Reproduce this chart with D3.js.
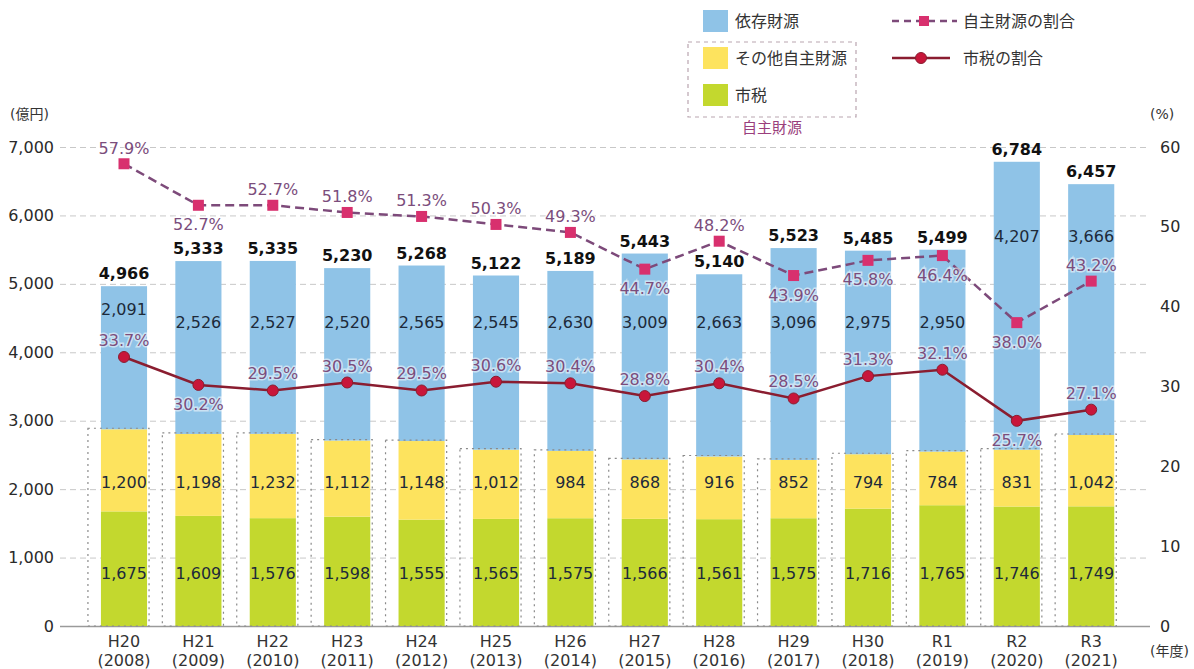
<!DOCTYPE html>
<html>
<head>
<meta charset="utf-8">
<script src="https://cdn.jsdelivr.net/npm/d3@7"></script>
<style>
  body { margin: 0; background: #fff; }
  svg { display: block; font-family: "DejaVu Sans", "Noto Sans CJK JP", sans-serif; }
</style>
</head>
<body>
<div id="chart"></div>
<script>
const width = 1194, height = 669;

// data (億円 / %)
const years     = ["H20","H21","H22","H23","H24","H25","H26","H27","H28","H29","H30","R1","R2","R3"];
const westYears = ["2008","2009","2010","2011","2012","2013","2014","2015","2016","2017","2018","2019","2020","2021"];
const cityTax   = [1675,1609,1576,1598,1555,1565,1575,1566,1561,1575,1716,1765,1746,1749];
const otherOwn  = [1200,1198,1232,1112,1148,1012,984,868,916,852,794,784,831,1042];
const dependent = [2091,2526,2527,2520,2565,2545,2630,3009,2663,3096,2975,2950,4207,3666];
const totals    = [4966,5333,5335,5230,5268,5122,5189,5443,5140,5523,5485,5499,6784,6457];
const ownRatio  = [57.9,52.7,52.7,51.8,51.3,50.3,49.3,44.7,48.2,43.9,45.8,46.4,38.0,43.2];
const taxRatio  = [33.7,30.2,29.5,30.5,29.5,30.6,30.4,28.8,30.4,28.5,31.3,32.1,25.7,27.1];
const leftTicks  = [0,1000,2000,3000,4000,5000,6000,7000];
const rightTicks = [0,10,20,30,40,50,60];

const colBlue = "#8fc3e7", colYellow = "#fde35e", colGreen = "#c3d82e";
const colOwnLine = "#7d4a7a", colOwnMark = "#d8306e";
const colTaxLine = "#8a1d30", colTaxMark = "#c8163a";
const colPct = "#7b4d7c", colVal = "#1d2a3a";

const data = years.map((y, i) => ({
  year: y, west: westYears[i], tax: cityTax[i], other: otherOwn[i], dep: dependent[i],
  total: totals[i], own: ownRatio[i], taxR: taxRatio[i]
}));

const svg = d3.select("#chart").append("svg")
  .attr("width", width).attr("height", height);

const gridL = 60, gridR = 1150;
const x = d3.scaleBand().domain(years).range([86.8, 1128.4]).paddingInner(0.38).paddingOuter(0.19);
const y = d3.scaleLinear().domain([0, 7000]).range([626, 147]);
const y2 = d3.scaleLinear().domain([0, 60]).range([626, 147]);
const bw = x.bandwidth();
const cx = d => x(d.year) + bw / 2;

// axes + grid
const leftAxis = svg.append("g")
  .attr("transform", `translate(${gridL},0)`)
  .call(d3.axisLeft(y).tickValues(leftTicks).tickFormat(d3.format(","))
    .tickSize(-(gridR - gridL)).tickPadding(6));
leftAxis.select(".domain").remove();
leftAxis.selectAll(".tick line")
  .attr("stroke", d => d === 0 ? "#9a9a9a" : "#c8c8c8")
  .attr("stroke-width", d => d === 0 ? 1.5 : 1)
  .attr("stroke-dasharray", d => d === 0 ? null : "6,4");
leftAxis.selectAll(".tick text").attr("font-size", 16).attr("fill", "#2a2a2a")
  .attr("font-family", "DejaVu Sans");

const rightAxis = svg.append("g")
  .attr("transform", `translate(${gridR},0)`)
  .call(d3.axisRight(y2).tickValues(rightTicks).tickSize(0).tickPadding(10));
rightAxis.select(".domain").remove();
rightAxis.selectAll(".tick text").attr("font-size", 16).attr("fill", "#2a2a2a")
  .attr("font-family", "DejaVu Sans");

svg.append("text").attr("x", 10).attr("y", 119).attr("font-size", 14).attr("fill", "#333").text("(億円)");
svg.append("text").attr("x", 1150).attr("y", 119).attr("font-size", 14).attr("fill", "#333").text("(%)");
svg.append("text").attr("x", 1150).attr("y", 656).attr("font-size", 14).attr("fill", "#333").text("(年度)");

// x labels
const xl = svg.append("g").selectAll("g").data(data).enter().append("g");
xl.append("text").attr("x", cx).attr("y", 647).attr("text-anchor", "middle")
  .attr("font-size", 16).attr("fill", "#333").text(d => d.year);
xl.append("text").attr("x", cx).attr("y", 666).attr("text-anchor", "middle")
  .attr("font-size", 16).attr("fill", "#333").text(d => "(" + d.west + ")");

// stacked bars
const bars = svg.append("g");
bars.selectAll("rect.tax").data(data).enter().append("rect")
  .attr("x", d => x(d.year)).attr("width", bw)
  .attr("y", d => y(d.tax)).attr("height", d => y(0) - y(d.tax)).attr("fill", colGreen);
bars.selectAll("rect.other").data(data).enter().append("rect")
  .attr("x", d => x(d.year)).attr("width", bw)
  .attr("y", d => y(d.tax + d.other)).attr("height", d => y(d.tax) - y(d.tax + d.other)).attr("fill", colYellow);
bars.selectAll("rect.dep").data(data).enter().append("rect")
  .attr("x", d => x(d.year)).attr("width", bw)
  .attr("y", d => y(d.total)).attr("height", d => y(d.tax + d.other) - y(d.total)).attr("fill", colBlue);

// dotted boxes around 自主財源
bars.selectAll("rect.own").data(data).enter().append("rect")
  .attr("x", d => x(d.year) - 13).attr("width", bw + 15)
  .attr("y", d => y(d.tax + d.other) - 1).attr("height", d => y(0) - y(d.tax + d.other) + 1)
  .attr("fill", "none").attr("stroke", "#8a8a8a").attr("stroke-width", 1.2)
  .attr("stroke-dasharray", "2,4");

// in-bar values
const fmt = d3.format(",");
const depLevel = d => d.total > 6000 ? 5700 : (d.total < 5000 ? 4620 : 4440);
const vals = svg.append("g").attr("font-size", 16).attr("fill", colVal).attr("text-anchor", "middle");
vals.selectAll("text.dep").data(data).enter().append("text")
  .attr("x", cx).attr("y", d => y(depLevel(d))).attr("dy", "0.35em").text(d => fmt(d.dep));
vals.selectAll("text.other").data(data).enter().append("text")
  .attr("x", cx).attr("y", y(2100)).attr("dy", "0.35em").text(d => fmt(d.other));
vals.selectAll("text.tax").data(data).enter().append("text")
  .attr("x", cx).attr("y", y(775)).attr("dy", "0.35em").text(d => fmt(d.tax));

// totals
svg.append("g").selectAll("text").data(data).enter().append("text")
  .attr("x", cx).attr("y", d => y(d.total) - 7).attr("text-anchor", "middle")
  .attr("font-size", 16).attr("font-weight", "bold").attr("fill", "#111")
  .text(d => fmt(d.total));

// ratio lines
const ownLine = d3.line().x(cx).y(d => y2(d.own));
const taxLine = d3.line().x(cx).y(d => y2(d.taxR));
svg.append("path").datum(data).attr("d", ownLine).attr("fill", "none")
  .attr("stroke", colOwnLine).attr("stroke-width", 2.5).attr("stroke-dasharray", "9,5");
svg.append("path").datum(data).attr("d", taxLine).attr("fill", "none")
  .attr("stroke", colTaxLine).attr("stroke-width", 2.5);
svg.append("g").selectAll("rect").data(data).enter().append("rect")
  .attr("x", d => cx(d) - 5.5).attr("y", d => y2(d.own) - 5.5)
  .attr("width", 11).attr("height", 11).attr("fill", colOwnMark);
svg.append("g").selectAll("circle").data(data).enter().append("circle")
  .attr("cx", cx).attr("cy", d => y2(d.taxR)).attr("r", 5.5)
  .attr("fill", colTaxMark).attr("stroke", colTaxLine).attr("stroke-width", 1);

// ratio labels
const ownBelow = new Set(["H21","H27","H29","H30","R1","R2"]);
const taxBelow = new Set(["H21","R2"]);
const pct = d => d3.format(".1f")(d) + "%";
const pl = svg.append("g").attr("font-size", 16).attr("fill", colPct).attr("text-anchor", "middle")
  .attr("stroke", "rgba(255,255,255,0.55)").attr("stroke-width", 3).attr("paint-order", "stroke");
pl.selectAll("text.own").data(data).enter().append("text")
  .attr("x", cx).attr("y", d => y2(d.own) + (ownBelow.has(d.year) ? 25 : -10)).text(d => pct(d.own));
pl.selectAll("text.tax").data(data).enter().append("text")
  .attr("x", cx).attr("y", d => y2(d.taxR) + (taxBelow.has(d.year) ? 25 : -11)).text(d => pct(d.taxR));

// legend
const lg = svg.append("g").attr("font-size", 16).attr("fill", "#333");
const swatches = [["依存財源", colBlue, 21], ["その他自主財源", colYellow, 58], ["市税", colGreen, 95]];
swatches.forEach(s => {
  lg.append("rect").attr("x", 703).attr("y", s[2] - 11).attr("width", 25).attr("height", 22).attr("fill", s[1]);
  lg.append("text").attr("x", 735).attr("y", s[2]).attr("dy", "0.35em").text(s[0]);
});
lg.append("rect").attr("x", 688).attr("y", 42).attr("width", 168).attr("height", 75)
  .attr("fill", "none").attr("stroke", "#b9a5b0").attr("stroke-width", 1.2).attr("stroke-dasharray", "4,4");
lg.append("text").attr("x", 772).attr("y", 128).attr("dy", "0.35em").attr("text-anchor", "middle")
  .attr("font-size", 15).attr("fill", "#9a3f7d").text("自主財源");

lg.append("line").attr("x1", 892).attr("x2", 957).attr("y1", 21).attr("y2", 21)
  .attr("stroke", colOwnLine).attr("stroke-width", 2.5).attr("stroke-dasharray", "7,5");
lg.append("rect").attr("x", 919).attr("y", 16).attr("width", 10).attr("height", 10).attr("fill", colOwnMark);
lg.append("text").attr("x", 963).attr("y", 21).attr("dy", "0.35em").text("自主財源の割合");
lg.append("line").attr("x1", 892).attr("x2", 950).attr("y1", 58).attr("y2", 58)
  .attr("stroke", colTaxLine).attr("stroke-width", 2.5);
lg.append("circle").attr("cx", 921).attr("cy", 58).attr("r", 5.5).attr("fill", colTaxMark)
  .attr("stroke", colTaxLine);
lg.append("text").attr("x", 963).attr("y", 58).attr("dy", "0.35em").text("市税の割合");
</script>
</body>
</html>
